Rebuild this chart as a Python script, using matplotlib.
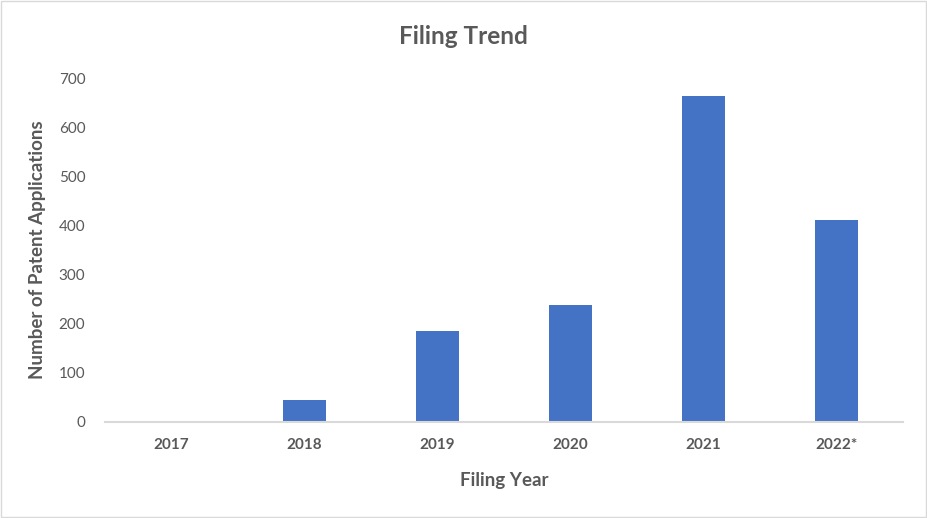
import matplotlib
matplotlib.use("Agg")
import matplotlib.pyplot as plt
from matplotlib.patches import Rectangle

years = ["2017", "2018", "2019", "2020", "2021", "2022*"]
applications = [0, 44, 184, 238, 664, 411]

plt.rcParams["font.family"] = ["Lato", "DejaVu Sans"]
TEXT = "#595959"

fig = plt.figure(figsize=(9.27, 5.18), dpi=100)
ax = fig.add_axes([0.113, 0.186, 0.861, 0.663])

x = list(range(len(years)))
ax.bar(x, applications, width=0.32, color="#4472C4", zorder=2)

ax.set_xlim(-0.5, len(years) - 0.5)
ax.set_ylim(0, 700)
ax.set_yticks(range(0, 701, 100))
ax.set_xticks(x)
ax.set_xticklabels(years, fontweight="bold")

for side in ["top", "right", "left"]:
    ax.spines[side].set_visible(False)
ax.spines["bottom"].set_color("#D9D9D9")
ax.spines["bottom"].set_linewidth(1.5)
ax.tick_params(axis="both", length=0, colors=TEXT, labelsize=11)
ax.tick_params(axis="x", pad=12)
ax.tick_params(axis="y", pad=14)

ax.set_xlabel("Filing Year", fontsize=13.5, color=TEXT, fontweight="bold", labelpad=14)
ax.set_ylabel("Number of Patent Applications", fontsize=13.5, color=TEXT,
              fontweight="bold", labelpad=9)
fig.text(0.5, 0.93, "Filing Trend", ha="center", va="center",
         fontsize=17.5, color=TEXT, fontweight="bold")

fig.patches.append(Rectangle((0.001, 0.001), 0.998, 0.998, transform=fig.transFigure,
                             fill=False, edgecolor="#D9D9D9", linewidth=1))

fig.savefig("out.png", dpi=100)
